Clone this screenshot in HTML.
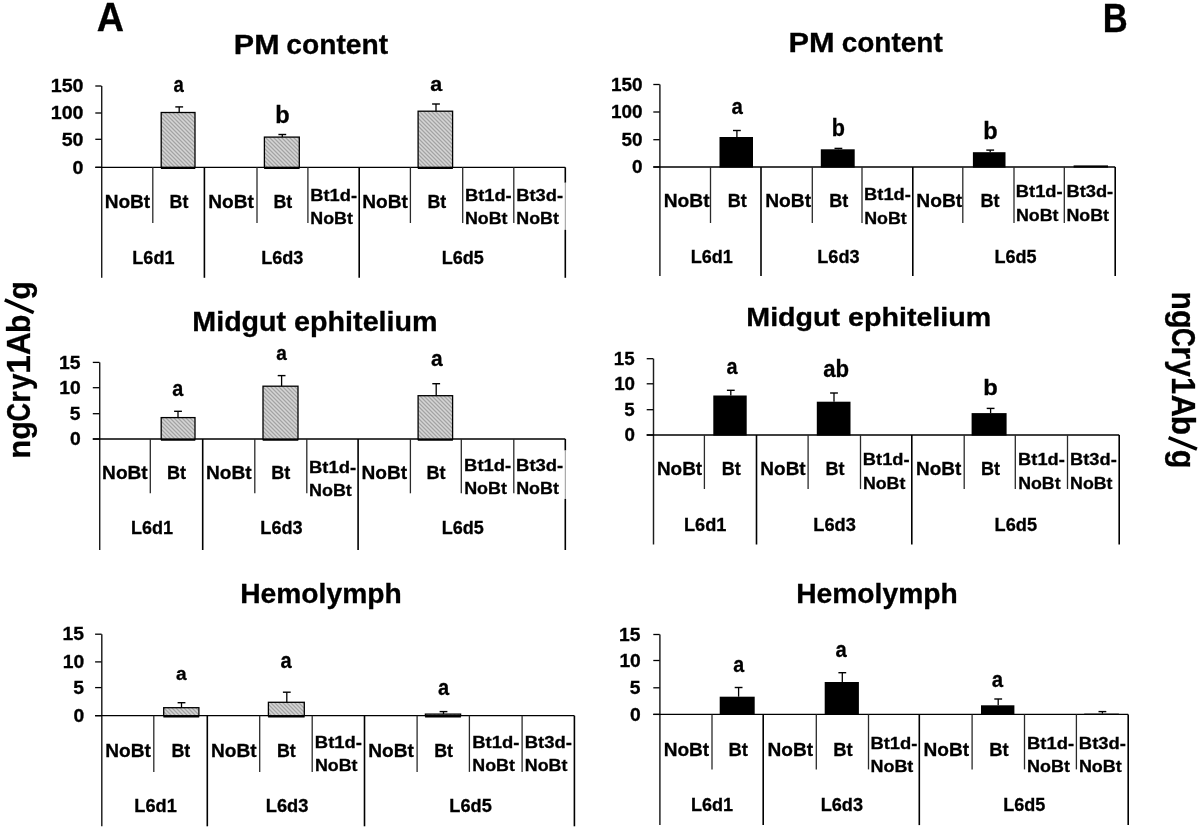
<!DOCTYPE html>
<html><head><meta charset="utf-8"><style>
html,body{margin:0;padding:0;background:#fff;}
svg{display:block;filter:blur(0.35px);}
text{font-family:"Liberation Sans",sans-serif;font-weight:bold;fill:#000;stroke:#000;stroke-width:0.3px;}
</style></head><body>
<svg width="1200" height="830" viewBox="0 0 1200 830">
<defs>
<pattern id="hatch" patternUnits="userSpaceOnUse" width="4" height="4">
<rect width="4" height="4" fill="#c0c0c0"/>
<path d="M0,0 L4,4 M-1,3 L1,5 M3,-1 L5,1" stroke="#9c9c9c" stroke-width="0.8"/>
<path d="M0,2 L2,4 M2,0 L4,2" stroke="#dedede" stroke-width="0.7"/>
</pattern>
</defs>
<rect width="1200" height="830" fill="#fff"/>
<line x1="101.70" y1="86.00" x2="101.70" y2="277.80" stroke="#1c1c1c" stroke-width="1.45"/>
<line x1="95.30" y1="167.30" x2="101.50" y2="167.30" stroke="#000" stroke-width="1.3"/>
<text transform="translate(72.58,173.55) scale(1.1000,1)" font-size="17.86">0</text>
<line x1="95.30" y1="139.30" x2="101.50" y2="139.30" stroke="#000" stroke-width="1.3"/>
<text transform="translate(61.68,145.55) scale(1.1000,1)" font-size="17.86">50</text>
<line x1="95.30" y1="113.00" x2="101.50" y2="113.00" stroke="#000" stroke-width="1.3"/>
<text transform="translate(50.78,119.25) scale(1.1000,1)" font-size="17.86">100</text>
<line x1="95.30" y1="86.00" x2="101.50" y2="86.00" stroke="#000" stroke-width="1.3"/>
<text transform="translate(50.78,92.25) scale(1.1000,1)" font-size="17.86">150</text>
<line x1="95.30" y1="167.30" x2="565.30" y2="167.30" stroke="#000" stroke-width="1.3"/>
<line x1="152.80" y1="167.30" x2="152.80" y2="223.00" stroke="#2a2a2a" stroke-width="1.3"/>
<line x1="204.40" y1="167.30" x2="204.40" y2="277.80" stroke="#000" stroke-width="1.6"/>
<line x1="257.00" y1="167.30" x2="257.00" y2="223.00" stroke="#2a2a2a" stroke-width="1.3"/>
<line x1="307.90" y1="167.30" x2="307.90" y2="223.00" stroke="#2a2a2a" stroke-width="1.3"/>
<line x1="359.20" y1="167.30" x2="359.20" y2="277.80" stroke="#000" stroke-width="1.6"/>
<line x1="410.40" y1="167.30" x2="410.40" y2="223.00" stroke="#2a2a2a" stroke-width="1.3"/>
<line x1="462.70" y1="167.30" x2="462.70" y2="223.00" stroke="#2a2a2a" stroke-width="1.3"/>
<line x1="513.80" y1="167.30" x2="513.80" y2="223.00" stroke="#2a2a2a" stroke-width="1.3"/>
<line x1="565.30" y1="167.30" x2="565.30" y2="182.70" stroke="#000" stroke-width="1.6"/>
<line x1="565.30" y1="182.70" x2="565.30" y2="229.80" stroke="#8a8a8a" stroke-width="0.9"/>
<line x1="565.30" y1="229.80" x2="565.30" y2="277.80" stroke="#000" stroke-width="1.6"/>
<text transform="translate(104.66,208.00) scale(1.0133,1)" font-size="18.84">NoBt</text>
<text transform="translate(169.54,208.00) scale(0.9472,1)" font-size="18.84">Bt</text>
<text transform="translate(208.21,208.00) scale(1.0133,1)" font-size="18.84">NoBt</text>
<text transform="translate(273.39,208.00) scale(0.9472,1)" font-size="18.84">Bt</text>
<text transform="translate(310.26,201.10) scale(1.0606,1)" font-size="17.24">Bt1d-</text>
<text transform="translate(310.29,224.30) scale(1.0891,1)" font-size="16.38">NoBt</text>
<text transform="translate(362.31,208.00) scale(1.0133,1)" font-size="18.84">NoBt</text>
<text transform="translate(427.49,208.00) scale(0.9472,1)" font-size="18.84">Bt</text>
<text transform="translate(464.96,201.10) scale(1.0606,1)" font-size="17.24">Bt1d-</text>
<text transform="translate(464.99,224.30) scale(1.0891,1)" font-size="16.38">NoBt</text>
<text transform="translate(516.26,201.10) scale(1.0606,1)" font-size="17.24">Bt3d-</text>
<text transform="translate(516.29,224.30) scale(1.0891,1)" font-size="16.38">NoBt</text>
<text transform="translate(132.33,263.80) scale(0.9688,1)" font-size="18.62">L6d1</text>
<text transform="translate(261.17,263.80) scale(0.9732,1)" font-size="18.62">L6d3</text>
<text transform="translate(441.63,263.80) scale(0.9688,1)" font-size="18.62">L6d5</text>
<rect x="161.20" y="112.50" width="33.80" height="54.80" fill="url(#hatch)" stroke="#000" stroke-width="1.3"/>
<line x1="160.90" y1="168.10" x2="195.30" y2="168.10" stroke="#000" stroke-width="1.8"/>
<line x1="179.20" y1="106.90" x2="179.20" y2="112.50" stroke="#000" stroke-width="1.3"/>
<line x1="175.30" y1="106.90" x2="183.10" y2="106.90" stroke="#000" stroke-width="1.4"/>
<text transform="translate(173.45,91.78) scale(0.8336,1)" font-size="22.18">a</text>
<rect x="264.40" y="137.10" width="34.90" height="30.20" fill="url(#hatch)" stroke="#000" stroke-width="1.3"/>
<line x1="264.10" y1="168.10" x2="299.60" y2="168.10" stroke="#000" stroke-width="1.8"/>
<line x1="282.30" y1="134.50" x2="282.30" y2="137.10" stroke="#000" stroke-width="1.3"/>
<line x1="278.40" y1="134.50" x2="286.20" y2="134.50" stroke="#000" stroke-width="1.4"/>
<text transform="translate(275.27,123.36) scale(1.0011,1)" font-size="23.54">b</text>
<rect x="418.10" y="111.20" width="34.50" height="56.10" fill="url(#hatch)" stroke="#000" stroke-width="1.3"/>
<line x1="417.80" y1="168.10" x2="452.90" y2="168.10" stroke="#000" stroke-width="1.8"/>
<line x1="436.00" y1="104.00" x2="436.00" y2="111.20" stroke="#000" stroke-width="1.3"/>
<line x1="432.10" y1="104.00" x2="439.90" y2="104.00" stroke="#000" stroke-width="1.4"/>
<text transform="translate(430.25,91.09) scale(1.0377,1)" font-size="20.73">a</text>
<line x1="99.70" y1="362.40" x2="99.70" y2="550.00" stroke="#1c1c1c" stroke-width="1.45"/>
<line x1="92.80" y1="439.00" x2="99.50" y2="439.00" stroke="#000" stroke-width="1.3"/>
<text transform="translate(70.05,445.15) scale(1.1000,1)" font-size="17.57">0</text>
<line x1="92.80" y1="413.70" x2="99.50" y2="413.70" stroke="#000" stroke-width="1.3"/>
<text transform="translate(69.76,419.85) scale(1.0843,1)" font-size="17.83">5</text>
<line x1="92.80" y1="387.70" x2="99.50" y2="387.70" stroke="#000" stroke-width="1.3"/>
<text transform="translate(59.32,393.85) scale(1.1000,1)" font-size="17.57">10</text>
<line x1="92.80" y1="362.40" x2="99.50" y2="362.40" stroke="#000" stroke-width="1.3"/>
<text transform="translate(59.03,368.55) scale(1.0843,1)" font-size="17.83">15</text>
<line x1="92.80" y1="439.00" x2="565.30" y2="439.00" stroke="#000" stroke-width="1.3"/>
<line x1="150.30" y1="439.00" x2="150.30" y2="493.30" stroke="#2a2a2a" stroke-width="1.3"/>
<line x1="202.70" y1="439.00" x2="202.70" y2="550.00" stroke="#000" stroke-width="1.6"/>
<line x1="254.80" y1="439.00" x2="254.80" y2="493.30" stroke="#2a2a2a" stroke-width="1.3"/>
<line x1="306.80" y1="439.00" x2="306.80" y2="493.30" stroke="#2a2a2a" stroke-width="1.3"/>
<line x1="358.10" y1="439.00" x2="358.10" y2="550.00" stroke="#000" stroke-width="1.6"/>
<line x1="410.40" y1="439.00" x2="410.40" y2="493.30" stroke="#2a2a2a" stroke-width="1.3"/>
<line x1="461.30" y1="439.00" x2="461.30" y2="493.30" stroke="#2a2a2a" stroke-width="1.3"/>
<line x1="513.80" y1="439.00" x2="513.80" y2="493.30" stroke="#2a2a2a" stroke-width="1.3"/>
<line x1="565.30" y1="439.00" x2="565.30" y2="450.40" stroke="#000" stroke-width="1.6"/>
<line x1="565.30" y1="450.40" x2="565.30" y2="498.90" stroke="#8a8a8a" stroke-width="0.9"/>
<line x1="565.30" y1="498.90" x2="565.30" y2="550.00" stroke="#000" stroke-width="1.6"/>
<text transform="translate(102.11,479.30) scale(1.0133,1)" font-size="18.84">NoBt</text>
<text transform="translate(167.03,479.30) scale(0.9581,1)" font-size="18.84">Bt</text>
<text transform="translate(205.96,479.30) scale(1.0133,1)" font-size="18.84">NoBt</text>
<text transform="translate(271.33,479.30) scale(0.9581,1)" font-size="18.84">Bt</text>
<text transform="translate(309.00,473.10) scale(1.0677,1)" font-size="17.24">Bt1d-</text>
<text transform="translate(309.04,496.40) scale(1.0392,1)" font-size="17.25">NoBt</text>
<text transform="translate(361.46,479.30) scale(1.0133,1)" font-size="18.84">NoBt</text>
<text transform="translate(426.38,479.30) scale(0.9581,1)" font-size="18.84">Bt</text>
<text transform="translate(464.10,470.60) scale(1.0763,1)" font-size="17.10">Bt1d-</text>
<text transform="translate(464.14,493.50) scale(1.0848,1)" font-size="16.52">NoBt</text>
<text transform="translate(516.10,470.60) scale(1.0763,1)" font-size="17.10">Bt3d-</text>
<text transform="translate(516.14,493.50) scale(1.0848,1)" font-size="16.52">NoBt</text>
<text transform="translate(131.08,534.30) scale(0.9834,1)" font-size="18.34">L6d1</text>
<text transform="translate(260.37,534.30) scale(0.9878,1)" font-size="18.34">L6d3</text>
<text transform="translate(441.68,534.30) scale(0.9834,1)" font-size="18.34">L6d5</text>
<rect x="161.20" y="417.60" width="33.80" height="21.40" fill="url(#hatch)" stroke="#000" stroke-width="1.3"/>
<line x1="160.90" y1="439.80" x2="195.30" y2="439.80" stroke="#000" stroke-width="1.8"/>
<line x1="178.00" y1="411.30" x2="178.00" y2="417.60" stroke="#000" stroke-width="1.3"/>
<line x1="174.10" y1="411.30" x2="181.90" y2="411.30" stroke="#000" stroke-width="1.4"/>
<text transform="translate(172.21,396.28) scale(0.8859,1)" font-size="22.36">a</text>
<rect x="263.00" y="386.20" width="35.00" height="52.80" fill="url(#hatch)" stroke="#000" stroke-width="1.3"/>
<line x1="262.70" y1="439.80" x2="298.30" y2="439.80" stroke="#000" stroke-width="1.8"/>
<line x1="281.60" y1="375.60" x2="281.60" y2="386.20" stroke="#000" stroke-width="1.3"/>
<line x1="277.70" y1="375.60" x2="285.50" y2="375.60" stroke="#000" stroke-width="1.4"/>
<text transform="translate(276.23,359.50) scale(0.9358,1)" font-size="20.36">a</text>
<rect x="418.10" y="395.70" width="34.50" height="43.30" fill="url(#hatch)" stroke="#000" stroke-width="1.3"/>
<line x1="417.80" y1="439.80" x2="452.90" y2="439.80" stroke="#000" stroke-width="1.8"/>
<line x1="436.20" y1="383.70" x2="436.20" y2="395.70" stroke="#000" stroke-width="1.3"/>
<line x1="432.30" y1="383.70" x2="440.10" y2="383.70" stroke="#000" stroke-width="1.4"/>
<text transform="translate(431.07,366.28) scale(0.9680,1)" font-size="21.64">a</text>
<line x1="101.80" y1="634.20" x2="101.80" y2="826.30" stroke="#1c1c1c" stroke-width="1.45"/>
<line x1="95.10" y1="715.70" x2="101.60" y2="715.70" stroke="#000" stroke-width="1.3"/>
<text transform="translate(73.55,721.85) scale(1.1000,1)" font-size="17.57">0</text>
<line x1="95.10" y1="687.60" x2="101.60" y2="687.60" stroke="#000" stroke-width="1.3"/>
<text transform="translate(73.26,693.75) scale(1.0843,1)" font-size="17.83">5</text>
<line x1="95.10" y1="661.90" x2="101.60" y2="661.90" stroke="#000" stroke-width="1.3"/>
<text transform="translate(62.82,668.05) scale(1.1000,1)" font-size="17.57">10</text>
<line x1="95.10" y1="634.20" x2="101.60" y2="634.20" stroke="#000" stroke-width="1.3"/>
<text transform="translate(62.53,640.35) scale(1.0843,1)" font-size="17.83">15</text>
<line x1="95.10" y1="715.70" x2="574.40" y2="715.70" stroke="#000" stroke-width="1.3"/>
<line x1="153.80" y1="715.70" x2="153.80" y2="771.90" stroke="#2a2a2a" stroke-width="1.3"/>
<line x1="207.30" y1="715.70" x2="207.30" y2="826.30" stroke="#000" stroke-width="1.6"/>
<line x1="259.70" y1="715.70" x2="259.70" y2="771.90" stroke="#2a2a2a" stroke-width="1.3"/>
<line x1="312.20" y1="715.70" x2="312.20" y2="771.90" stroke="#2a2a2a" stroke-width="1.3"/>
<line x1="364.50" y1="715.70" x2="364.50" y2="826.30" stroke="#000" stroke-width="1.6"/>
<line x1="417.10" y1="715.70" x2="417.10" y2="771.90" stroke="#2a2a2a" stroke-width="1.3"/>
<line x1="469.40" y1="715.70" x2="469.40" y2="771.90" stroke="#2a2a2a" stroke-width="1.3"/>
<line x1="522.10" y1="715.70" x2="522.10" y2="771.90" stroke="#2a2a2a" stroke-width="1.3"/>
<line x1="574.40" y1="715.70" x2="574.40" y2="826.30" stroke="#000" stroke-width="1.6"/>
<text transform="translate(105.21,757.40) scale(1.0056,1)" font-size="18.99">NoBt</text>
<text transform="translate(171.49,757.40) scale(0.9400,1)" font-size="18.99">Bt</text>
<text transform="translate(211.01,757.40) scale(1.0056,1)" font-size="18.99">NoBt</text>
<text transform="translate(276.89,757.40) scale(0.9400,1)" font-size="18.99">Bt</text>
<text transform="translate(314.85,748.00) scale(1.1054,1)" font-size="16.69">Bt1d-</text>
<text transform="translate(314.89,771.10) scale(1.0701,1)" font-size="16.67">NoBt</text>
<text transform="translate(368.31,757.40) scale(1.0056,1)" font-size="18.99">NoBt</text>
<text transform="translate(434.19,757.40) scale(0.9400,1)" font-size="18.99">Bt</text>
<text transform="translate(472.25,748.00) scale(1.1054,1)" font-size="16.69">Bt1d-</text>
<text transform="translate(472.29,771.10) scale(1.0701,1)" font-size="16.67">NoBt</text>
<text transform="translate(524.75,748.00) scale(1.1054,1)" font-size="16.69">Bt3d-</text>
<text transform="translate(524.79,771.10) scale(1.0701,1)" font-size="16.67">NoBt</text>
<text transform="translate(134.37,812.40) scale(1.0294,1)" font-size="17.66">L6d1</text>
<text transform="translate(265.81,812.40) scale(1.0340,1)" font-size="17.66">L6d3</text>
<text transform="translate(449.37,812.40) scale(1.0294,1)" font-size="17.66">L6d5</text>
<rect x="163.70" y="707.70" width="35.20" height="8.00" fill="url(#hatch)" stroke="#000" stroke-width="1.3"/>
<line x1="163.40" y1="716.50" x2="199.20" y2="716.50" stroke="#000" stroke-width="1.8"/>
<line x1="181.50" y1="702.70" x2="181.50" y2="707.70" stroke="#000" stroke-width="1.3"/>
<line x1="177.60" y1="702.70" x2="185.40" y2="702.70" stroke="#000" stroke-width="1.4"/>
<text transform="translate(175.93,679.82) scale(1.0377,1)" font-size="18.36">a</text>
<rect x="268.40" y="702.30" width="35.90" height="13.40" fill="url(#hatch)" stroke="#000" stroke-width="1.3"/>
<line x1="268.10" y1="716.50" x2="304.60" y2="716.50" stroke="#000" stroke-width="1.8"/>
<line x1="286.80" y1="692.20" x2="286.80" y2="702.30" stroke="#000" stroke-width="1.3"/>
<line x1="282.90" y1="692.20" x2="290.70" y2="692.20" stroke="#000" stroke-width="1.4"/>
<text transform="translate(280.40,668.38) scale(0.9244,1)" font-size="21.64">a</text>
<rect x="425.40" y="714.10" width="35.20" height="1.60" fill="url(#hatch)" stroke="#000" stroke-width="1.3"/>
<line x1="425.10" y1="716.50" x2="460.90" y2="716.50" stroke="#000" stroke-width="1.8"/>
<line x1="443.50" y1="711.60" x2="443.50" y2="714.10" stroke="#000" stroke-width="1.3"/>
<line x1="439.60" y1="711.60" x2="447.40" y2="711.60" stroke="#000" stroke-width="1.4"/>
<text transform="translate(438.00,694.98) scale(0.9244,1)" font-size="21.64">a</text>
<line x1="659.90" y1="84.50" x2="659.90" y2="276.00" stroke="#1c1c1c" stroke-width="1.45"/>
<line x1="653.30" y1="167.00" x2="659.70" y2="167.00" stroke="#000" stroke-width="1.3"/>
<text transform="translate(631.95,173.25) scale(1.0600,1)" font-size="17.86">0</text>
<line x1="653.30" y1="139.70" x2="659.70" y2="139.70" stroke="#000" stroke-width="1.3"/>
<text transform="translate(621.45,145.95) scale(1.0600,1)" font-size="17.86">50</text>
<line x1="653.30" y1="112.00" x2="659.70" y2="112.00" stroke="#000" stroke-width="1.3"/>
<text transform="translate(610.94,118.25) scale(1.0600,1)" font-size="17.86">100</text>
<line x1="653.30" y1="84.50" x2="659.70" y2="84.50" stroke="#000" stroke-width="1.3"/>
<text transform="translate(610.94,90.75) scale(1.0600,1)" font-size="17.86">150</text>
<line x1="653.30" y1="167.00" x2="1115.20" y2="167.00" stroke="#000" stroke-width="1.3"/>
<line x1="710.50" y1="167.00" x2="710.50" y2="223.00" stroke="#2a2a2a" stroke-width="1.3"/>
<line x1="761.00" y1="167.00" x2="761.00" y2="276.00" stroke="#000" stroke-width="1.6"/>
<line x1="812.30" y1="167.00" x2="812.30" y2="223.00" stroke="#2a2a2a" stroke-width="1.3"/>
<line x1="862.00" y1="167.00" x2="862.00" y2="223.00" stroke="#2a2a2a" stroke-width="1.3"/>
<line x1="912.80" y1="167.00" x2="912.80" y2="276.00" stroke="#000" stroke-width="1.6"/>
<line x1="962.80" y1="167.00" x2="962.80" y2="223.00" stroke="#2a2a2a" stroke-width="1.3"/>
<line x1="1014.00" y1="167.00" x2="1014.00" y2="223.00" stroke="#2a2a2a" stroke-width="1.3"/>
<line x1="1064.30" y1="167.00" x2="1064.30" y2="223.00" stroke="#2a2a2a" stroke-width="1.3"/>
<line x1="1115.20" y1="167.00" x2="1115.20" y2="276.00" stroke="#000" stroke-width="1.6"/>
<text transform="translate(663.65,206.80) scale(1.0124,1)" font-size="18.99">NoBt</text>
<text transform="translate(727.78,206.80) scale(0.9508,1)" font-size="18.99">Bt</text>
<text transform="translate(765.20,206.80) scale(1.0124,1)" font-size="18.99">NoBt</text>
<text transform="translate(829.18,206.80) scale(0.9508,1)" font-size="18.99">Bt</text>
<text transform="translate(864.11,200.20) scale(1.1048,1)" font-size="16.55">Bt1d-</text>
<text transform="translate(864.14,224.00) scale(1.0701,1)" font-size="16.67">NoBt</text>
<text transform="translate(916.35,206.80) scale(1.0124,1)" font-size="18.99">NoBt</text>
<text transform="translate(980.43,206.80) scale(0.9508,1)" font-size="18.99">Bt</text>
<text transform="translate(1015.86,197.40) scale(1.1331,1)" font-size="16.14">Bt1d-</text>
<text transform="translate(1015.89,220.80) scale(1.0891,1)" font-size="16.38">NoBt</text>
<text transform="translate(1066.46,197.40) scale(1.1331,1)" font-size="16.14">Bt3d-</text>
<text transform="translate(1066.49,220.80) scale(1.0891,1)" font-size="16.38">NoBt</text>
<text transform="translate(690.73,262.80) scale(0.9688,1)" font-size="18.62">L6d1</text>
<text transform="translate(817.27,262.80) scale(0.9732,1)" font-size="18.62">L6d3</text>
<text transform="translate(994.38,262.80) scale(0.9688,1)" font-size="18.62">L6d5</text>
<rect x="719.50" y="137.00" width="33.50" height="30.60" fill="#000"/>
<line x1="736.90" y1="130.50" x2="736.90" y2="137.00" stroke="#000" stroke-width="1.3"/>
<line x1="733.00" y1="130.50" x2="740.80" y2="130.50" stroke="#000" stroke-width="1.4"/>
<text transform="translate(731.59,113.97) scale(0.8966,1)" font-size="22.73">a</text>
<rect x="820.80" y="149.30" width="33.90" height="18.30" fill="#000"/>
<line x1="838.40" y1="148.40" x2="838.40" y2="149.30" stroke="#000" stroke-width="1.3"/>
<line x1="834.50" y1="148.40" x2="842.30" y2="148.40" stroke="#000" stroke-width="1.4"/>
<text transform="translate(831.80,136.27) scale(0.9332,1)" font-size="23.13">b</text>
<rect x="972.90" y="152.20" width="32.60" height="15.40" fill="#000"/>
<line x1="990.20" y1="150.10" x2="990.20" y2="152.20" stroke="#000" stroke-width="1.3"/>
<line x1="986.30" y1="150.10" x2="994.10" y2="150.10" stroke="#000" stroke-width="1.4"/>
<text transform="translate(983.27,139.27) scale(1.0070,1)" font-size="23.40">b</text>
<rect x="1073.60" y="165.40" width="34.40" height="2.20" fill="#000"/>
<line x1="653.50" y1="358.70" x2="653.50" y2="544.50" stroke="#1c1c1c" stroke-width="1.45"/>
<line x1="646.70" y1="435.00" x2="653.30" y2="435.00" stroke="#000" stroke-width="1.3"/>
<text transform="translate(624.54,441.25) scale(1.0500,1)" font-size="17.86">0</text>
<line x1="646.70" y1="409.70" x2="653.30" y2="409.70" stroke="#000" stroke-width="1.3"/>
<text transform="translate(624.26,415.95) scale(1.0350,1)" font-size="18.12">5</text>
<line x1="646.70" y1="383.80" x2="653.30" y2="383.80" stroke="#000" stroke-width="1.3"/>
<text transform="translate(614.14,390.05) scale(1.0500,1)" font-size="17.86">10</text>
<line x1="646.70" y1="358.70" x2="653.30" y2="358.70" stroke="#000" stroke-width="1.3"/>
<text transform="translate(613.86,364.95) scale(1.0350,1)" font-size="18.12">15</text>
<line x1="646.70" y1="435.00" x2="1119.20" y2="435.00" stroke="#000" stroke-width="1.3"/>
<line x1="704.40" y1="435.00" x2="704.40" y2="489.00" stroke="#2a2a2a" stroke-width="1.3"/>
<line x1="756.50" y1="435.00" x2="756.50" y2="544.50" stroke="#000" stroke-width="1.6"/>
<line x1="808.10" y1="435.00" x2="808.10" y2="489.00" stroke="#2a2a2a" stroke-width="1.3"/>
<line x1="860.50" y1="435.00" x2="860.50" y2="489.00" stroke="#2a2a2a" stroke-width="1.3"/>
<line x1="911.80" y1="435.00" x2="911.80" y2="544.50" stroke="#000" stroke-width="1.6"/>
<line x1="964.20" y1="435.00" x2="964.20" y2="489.00" stroke="#2a2a2a" stroke-width="1.3"/>
<line x1="1015.30" y1="435.00" x2="1015.30" y2="489.00" stroke="#2a2a2a" stroke-width="1.3"/>
<line x1="1067.50" y1="435.00" x2="1067.50" y2="489.00" stroke="#2a2a2a" stroke-width="1.3"/>
<line x1="1119.20" y1="435.00" x2="1119.20" y2="544.50" stroke="#000" stroke-width="1.6"/>
<text transform="translate(656.92,474.70) scale(1.0221,1)" font-size="18.55">NoBt</text>
<text transform="translate(721.68,474.70) scale(0.9731,1)" font-size="18.55">Bt</text>
<text transform="translate(760.37,474.70) scale(1.0221,1)" font-size="18.55">NoBt</text>
<text transform="translate(825.53,474.70) scale(0.9731,1)" font-size="18.55">Bt</text>
<text transform="translate(862.86,465.40) scale(1.0778,1)" font-size="16.97">Bt1d-</text>
<text transform="translate(862.90,489.00) scale(1.0291,1)" font-size="17.25">NoBt</text>
<text transform="translate(916.07,474.70) scale(1.0221,1)" font-size="18.55">NoBt</text>
<text transform="translate(980.98,474.70) scale(0.9731,1)" font-size="18.55">Bt</text>
<text transform="translate(1018.11,465.40) scale(1.0778,1)" font-size="16.97">Bt1d-</text>
<text transform="translate(1018.15,489.00) scale(1.0291,1)" font-size="17.25">NoBt</text>
<text transform="translate(1070.06,465.40) scale(1.0778,1)" font-size="16.97">Bt3d-</text>
<text transform="translate(1070.10,489.00) scale(1.0291,1)" font-size="17.25">NoBt</text>
<text transform="translate(684.02,530.80) scale(1.0135,1)" font-size="17.93">L6d1</text>
<text transform="translate(813.26,530.80) scale(1.0181,1)" font-size="17.93">L6d3</text>
<text transform="translate(994.62,530.80) scale(1.0135,1)" font-size="17.93">L6d5</text>
<rect x="713.30" y="395.50" width="33.40" height="40.10" fill="#000"/>
<line x1="730.80" y1="390.30" x2="730.80" y2="395.50" stroke="#000" stroke-width="1.3"/>
<line x1="726.90" y1="390.30" x2="734.70" y2="390.30" stroke="#000" stroke-width="1.4"/>
<text transform="translate(726.41,374.48) scale(0.8931,1)" font-size="22.18">a</text>
<rect x="816.80" y="401.70" width="33.70" height="33.90" fill="#000"/>
<line x1="834.00" y1="393.00" x2="834.00" y2="401.70" stroke="#000" stroke-width="1.3"/>
<line x1="830.10" y1="393.00" x2="837.90" y2="393.00" stroke="#000" stroke-width="1.4"/>
<text transform="translate(823.23,377.07) scale(0.9483,1)" font-size="23.40">ab</text>
<rect x="971.60" y="413.10" width="35.00" height="22.50" fill="#000"/>
<line x1="990.60" y1="408.40" x2="990.60" y2="413.10" stroke="#000" stroke-width="1.3"/>
<line x1="986.70" y1="408.40" x2="994.50" y2="408.40" stroke="#000" stroke-width="1.4"/>
<text transform="translate(983.26,395.48) scale(1.0585,1)" font-size="22.45">b</text>
<line x1="659.90" y1="634.50" x2="659.90" y2="825.10" stroke="#1c1c1c" stroke-width="1.45"/>
<line x1="653.30" y1="714.40" x2="659.70" y2="714.40" stroke="#000" stroke-width="1.3"/>
<text transform="translate(630.08,720.70) scale(1.0700,1)" font-size="18.00">0</text>
<line x1="653.30" y1="687.80" x2="659.70" y2="687.80" stroke="#000" stroke-width="1.3"/>
<text transform="translate(629.79,694.10) scale(1.0547,1)" font-size="18.26">5</text>
<line x1="653.30" y1="660.50" x2="659.70" y2="660.50" stroke="#000" stroke-width="1.3"/>
<text transform="translate(619.39,666.80) scale(1.0700,1)" font-size="18.00">10</text>
<line x1="653.30" y1="634.50" x2="659.70" y2="634.50" stroke="#000" stroke-width="1.3"/>
<text transform="translate(619.10,640.80) scale(1.0547,1)" font-size="18.26">15</text>
<line x1="653.30" y1="714.40" x2="1128.20" y2="714.40" stroke="#000" stroke-width="1.3"/>
<line x1="712.00" y1="714.40" x2="712.00" y2="769.40" stroke="#2a2a2a" stroke-width="1.3"/>
<line x1="763.20" y1="714.40" x2="763.20" y2="825.10" stroke="#000" stroke-width="1.6"/>
<line x1="816.30" y1="714.40" x2="816.30" y2="769.40" stroke="#2a2a2a" stroke-width="1.3"/>
<line x1="868.50" y1="714.40" x2="868.50" y2="769.40" stroke="#2a2a2a" stroke-width="1.3"/>
<line x1="919.30" y1="714.40" x2="919.30" y2="825.10" stroke="#000" stroke-width="1.6"/>
<line x1="972.10" y1="714.40" x2="972.10" y2="769.40" stroke="#2a2a2a" stroke-width="1.3"/>
<line x1="1024.50" y1="714.40" x2="1024.50" y2="769.40" stroke="#2a2a2a" stroke-width="1.3"/>
<line x1="1076.40" y1="714.40" x2="1076.40" y2="769.40" stroke="#2a2a2a" stroke-width="1.3"/>
<line x1="1128.20" y1="714.40" x2="1128.20" y2="825.10" stroke="#000" stroke-width="1.6"/>
<text transform="translate(663.66,755.80) scale(0.9904,1)" font-size="19.28">NoBt</text>
<text transform="translate(728.50,755.80) scale(0.9578,1)" font-size="19.28">Bt</text>
<text transform="translate(767.56,755.80) scale(0.9904,1)" font-size="19.28">NoBt</text>
<text transform="translate(833.30,755.80) scale(0.9578,1)" font-size="19.28">Bt</text>
<text transform="translate(870.45,748.80) scale(1.0939,1)" font-size="16.83">Bt1d-</text>
<text transform="translate(870.48,771.90) scale(1.0686,1)" font-size="16.81">NoBt</text>
<text transform="translate(923.51,755.80) scale(0.9904,1)" font-size="19.28">NoBt</text>
<text transform="translate(989.20,755.80) scale(0.9578,1)" font-size="19.28">Bt</text>
<text transform="translate(1027.00,748.80) scale(1.0939,1)" font-size="16.83">Bt1d-</text>
<text transform="translate(1027.03,771.90) scale(1.0686,1)" font-size="16.81">NoBt</text>
<text transform="translate(1078.85,748.80) scale(1.0939,1)" font-size="16.83">Bt3d-</text>
<text transform="translate(1078.88,771.90) scale(1.0686,1)" font-size="16.81">NoBt</text>
<text transform="translate(690.93,810.90) scale(0.9984,1)" font-size="18.07">L6d1</text>
<text transform="translate(820.72,810.90) scale(1.0029,1)" font-size="18.07">L6d3</text>
<text transform="translate(1003.23,810.90) scale(0.9984,1)" font-size="18.07">L6d5</text>
<rect x="719.70" y="696.70" width="35.00" height="18.30" fill="#000"/>
<line x1="738.60" y1="687.50" x2="738.60" y2="696.70" stroke="#000" stroke-width="1.3"/>
<line x1="734.70" y1="687.50" x2="742.50" y2="687.50" stroke="#000" stroke-width="1.4"/>
<text transform="translate(733.21,672.27) scale(0.8634,1)" font-size="22.73">a</text>
<rect x="824.70" y="682.00" width="34.20" height="33.00" fill="#000"/>
<line x1="842.30" y1="672.70" x2="842.30" y2="682.00" stroke="#000" stroke-width="1.3"/>
<line x1="838.40" y1="672.70" x2="846.20" y2="672.70" stroke="#000" stroke-width="1.4"/>
<text transform="translate(835.39,657.28) scale(0.9101,1)" font-size="22.18">a</text>
<rect x="981.00" y="705.30" width="33.40" height="9.70" fill="#000"/>
<line x1="998.20" y1="699.00" x2="998.20" y2="705.30" stroke="#000" stroke-width="1.3"/>
<line x1="994.30" y1="699.00" x2="1002.10" y2="699.00" stroke="#000" stroke-width="1.4"/>
<text transform="translate(991.79,686.77) scale(0.8895,1)" font-size="22.91">a</text>
<rect x="1084.20" y="713.60" width="34.70" height="1.40" fill="#000"/>
<line x1="1102.40" y1="711.60" x2="1102.40" y2="713.60" stroke="#000" stroke-width="1.3"/>
<line x1="1098.50" y1="711.60" x2="1106.30" y2="711.60" stroke="#000" stroke-width="1.4"/>
<text transform="translate(96.76,31.00) scale(0.9305,1)" font-size="40.58">A</text>
<text transform="translate(1102.65,31.80) scale(0.8679,1)" font-size="39.86">B</text>
<text transform="translate(233.82,53.70) scale(1.1126,1)" font-size="27.39">PM</text>
<text transform="translate(286.37,53.70) scale(1.0296,1)" font-size="27.39">content</text>
<text transform="translate(788.50,52.40) scale(1.0944,1)" font-size="28.12">PM</text>
<text transform="translate(841.68,52.40) scale(0.9961,1)" font-size="28.12">content</text>
<text transform="translate(192.34,331.30) scale(1.0377,1)" font-size="27.59">Midgut</text>
<text transform="translate(294.05,331.30) scale(1.0412,1)" font-size="27.59">ephitelium</text>
<text transform="translate(746.34,326.40) scale(1.1039,1)" font-size="25.93">Midgut</text>
<text transform="translate(848.05,326.40) scale(1.1045,1)" font-size="25.93">ephitelium</text>
<text transform="translate(240.16,603.00) scale(1.0553,1)" font-size="26.76">Hemolymph</text>
<text transform="translate(796.16,603.00) scale(1.0553,1)" font-size="26.76">Hemolymph</text>
<g transform="rotate(-90)">
<text transform="translate(-458.72,29.80) scale(1.0007,1)" font-size="31.11">n</text>
<text transform="translate(-439.50,29.80) scale(0.9675,1)" font-size="31.11">g</text>
<text transform="translate(-421.43,29.80) scale(0.7706,1)" font-size="33.29">C</text>
<text transform="translate(-402.83,29.80) scale(0.9539,1)" font-size="31.11">r</text>
<text transform="translate(-389.79,29.80) scale(0.9172,1)" font-size="31.70">y</text>
<text transform="translate(-373.68,29.80) scale(1.0153,1)" font-size="33.04">1</text>
<text transform="translate(-355.09,29.80) scale(0.9576,1)" font-size="33.04">A</text>
<text transform="translate(-332.96,29.80) scale(0.8943,1)" font-size="33.66">b</text>
<text transform="translate(-299.60,29.80) scale(0.9611,1)" font-size="31.11">g</text>
</g>
<line x1="4.80" y1="299.90" x2="33.70" y2="312.60" stroke="#000" stroke-width="3.5"/>
<g transform="rotate(90)">
<text transform="translate(291.68,-1172.20) scale(0.8995,1)" font-size="32.78">n</text>
<text transform="translate(310.07,-1172.20) scale(0.9364,1)" font-size="32.78">g</text>
<text transform="translate(328.06,-1172.20) scale(0.7810,1)" font-size="33.43">C</text>
<text transform="translate(346.34,-1172.20) scale(1.0137,1)" font-size="32.78">r</text>
<text transform="translate(360.20,-1172.20) scale(0.8928,1)" font-size="33.40">y</text>
<text transform="translate(377.00,-1172.20) scale(0.9068,1)" font-size="33.91">1</text>
<text transform="translate(394.83,-1172.20) scale(0.9066,1)" font-size="33.91">A</text>
<text transform="translate(415.84,-1172.20) scale(0.9338,1)" font-size="33.93">b</text>
<text transform="translate(449.87,-1172.20) scale(0.9364,1)" font-size="32.78">g</text>
</g>
<line x1="1168.60" y1="437.70" x2="1196.90" y2="449.20" stroke="#000" stroke-width="3.5"/>
</svg>
</body></html>
